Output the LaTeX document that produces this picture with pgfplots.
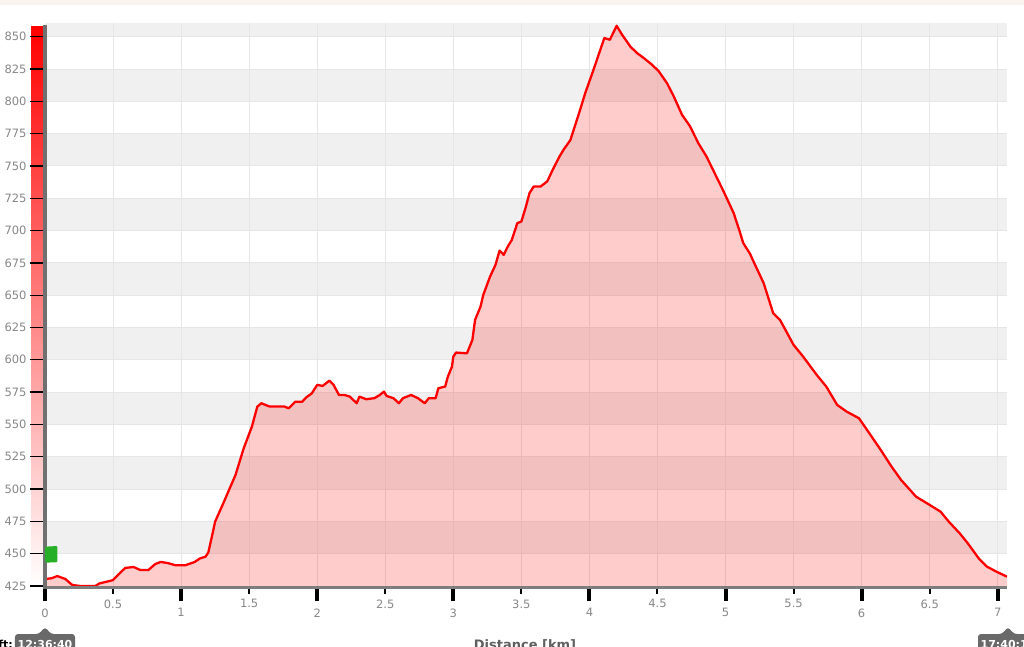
\documentclass[border=0pt]{standalone}
\usepackage{fontspec}
\setmainfont{DejaVu Sans}
\usepackage{pgfplots}
\pgfplotsset{compat=1.18}
\usepackage{pgfplotstable}
\definecolor{band}{RGB}{240,240,240}
\definecolor{gridc}{RGB}{230,230,230}
\definecolor{axgray}{RGB}{112,112,112}
\definecolor{xaxgray}{RGB}{125,125,125}
\definecolor{lblgray}{RGB}{135,135,135}
\definecolor{flag}{RGB}{40,175,40}
\definecolor{callout}{RGB}{105,105,105}
\definecolor{topstrip}{RGB}{250,244,240}

\pgfplotstableread{
x y
0 430.4
0.05 431
0.09 432.7
0.15 430.4
0.20 425.8
0.26 425
0.37 425
0.40 427
0.48 429
0.50 429.6
0.54 434
0.59 439
0.65 439.7
0.70 437.4
0.76 437.4
0.81 442
0.85 443.6
0.90 442.8
0.96 441
1.03 441
1.10 443.6
1.14 446.4
1.18 447.7
1.20 451
1.23 465
1.25 474.8
1.31 489
1.40 511
1.46 531.6
1.52 548.3
1.56 563.8
1.59 566.4
1.65 563.8
1.76 563.8
1.79 562.5
1.84 567.6
1.89 567.6
1.92 571
1.96 574
2.00 580.6
2.04 579.8
2.09 583.9
2.12 580.6
2.16 572.8
2.20 572.8
2.24 571.5
2.29 566.4
2.31 571.5
2.36 569.5
2.42 570.3
2.46 572.8
2.49 575.4
2.51 572
2.56 570.3
2.60 566.4
2.63 570.3
2.69 572.8
2.74 570.3
2.79 566.4
2.82 570.3
2.87 570.3
2.89 578
2.94 579.3
2.96 587
2.99 594.7
3.00 602.5
3.02 605.6
3.10 605
3.14 615.4
3.16 630.9
3.20 641.2
3.22 650.2
3.27 664.4
3.31 673.5
3.34 684.5
3.37 681.2
3.40 687.6
3.43 692.8
3.47 705.7
3.50 707
3.53 717.3
3.56 729
3.59 734
3.64 734
3.69 738
3.73 747
3.78 757.3
3.81 762.5
3.86 770
3.92 789.6
3.97 806.6
4.03 824.4
4.08 839.9
4.11 849
4.15 847.6
4.20 858.4
4.24 851.5
4.30 842.4
4.35 837.3
4.40 833.4
4.46 828.3
4.51 823.1
4.57 814
4.62 803.7
4.68 789.6
4.74 780.5
4.80 767.6
4.86 757.3
4.92 744.4
4.98 731.5
5.02 722.5
5.06 713.4
5.10 700.6
5.13 690.3
5.18 682
5.20 677.3
5.28 659.3
5.35 636.1
5.40 630.9
5.50 611.5
5.57 602.5
5.67 588.3
5.74 579.3
5.82 565.1
5.89 559.9
5.98 554.8
6.04 545.7
6.14 530.3
6.22 517.3
6.29 507
6.40 494.1
6.50 487.7
6.58 482.5
6.64 474.8
6.72 465.8
6.78 458
6.86 446.4
6.92 440
6.99 436.1
7.068 432.2
}\profile

\begin{document}
\begin{tikzpicture}[x=1pt,y=1pt]
\path[use as bounding box] (-45,-61) rectangle (979,586);
\fill[topstrip] (-45,581) rectangle (979,586);
% gradient bar left of the y axis
\shade[top color=red, bottom color=white, middle color={rgb,255:red,255;green,128;blue,128}] (-14,0) rectangle (-1.7,559.3);
\begin{axis}[
  at={(0,0)}, anchor=origin,
  scale only axis, width=962pt, height=562pt,
  xmin=0, xmax=7.068, ymin=425, ymax=859.8,
  axis line style={draw=none},
  xtick pos=bottom, ytick pos=left,
  xtick={0,1,...,7},
  extra x ticks={0.5,1.5,2.5,3.5,4.5,5.5,6.5},
  extra x tick style={major tick length=8pt, xtick style={black, line width=2pt}, xticklabel style={yshift=2pt}},
  ytick={425,450,...,850},
  tick align=outside,
  major tick length=15pt,
  xtick style={black, line width=4pt},
  ytick style={black, line width=1.3pt},
  ticklabel style={font=\fontsize{11.5}{13}\selectfont, text=lblgray},
  xticklabel style={yshift=-4pt},
  /pgf/number format/assume math mode=true,
  clip=true,
]
% bands
\fill[band] (axis cs:0,450) rectangle (axis cs:7.068,475);
\fill[band] (axis cs:0,500) rectangle (axis cs:7.068,525);
\fill[band] (axis cs:0,550) rectangle (axis cs:7.068,575);
\fill[band] (axis cs:0,600) rectangle (axis cs:7.068,625);
\fill[band] (axis cs:0,650) rectangle (axis cs:7.068,675);
\fill[band] (axis cs:0,700) rectangle (axis cs:7.068,725);
\fill[band] (axis cs:0,750) rectangle (axis cs:7.068,775);
\fill[band] (axis cs:0,800) rectangle (axis cs:7.068,825);
\fill[band] (axis cs:0,850) rectangle (axis cs:7.068,870);
% grid
\pgfplotsinvokeforeach{0.5,1,1.5,2,2.5,3,3.5,4,4.5,5,5.5,6,6.5,7}{
  \draw[gridc, line width=1.1pt] (axis cs:#1,425) -- (axis cs:#1,870);
}
\pgfplotsinvokeforeach{450,475,500,525,550,575,600,625,650,675,700,725,750,775,800,825,850}{
  \draw[gridc, line width=0.9pt] (axis cs:0,#1) -- (axis cs:7.068,#1);
}
\addplot[draw=none, fill=red, fill opacity=0.2] table[x=x,y=y] {\profile} \closedcycle;
\addplot[red, line width=2.3pt, line join=round] table[x=x,y=y] {\profile};
\end{axis}
% axis lines
\draw[xaxgray, line width=3pt] (0,-1.5) -- (962,-1.5);
\draw[axgray, line width=4pt] (0.3,-3) -- (0.3,561);
% green marker
\fill[flag, rounded corners=1pt] (0,23.3) -- (12.3,23.8) -- (12.3,40) -- (0,39.3) -- cycle;
% time callouts
\fill[callout, rounded corners=3pt] (-30,-48) -- (-6,-48) -- (0,-41) -- (6,-48) -- (30,-48) -- (30,-75) -- (-30,-75) -- cycle;
\node[anchor=base, text=white, font=\bfseries\fontsize{11}{13}\selectfont, inner sep=0] at (0,-62) {12:36:40};
\node[anchor=base east, text=black, font=\bfseries\fontsize{11}{13}\selectfont, inner sep=0] at (-32,-62) {Left:};
\fill[callout, rounded corners=3pt] (933,-48) -- (957,-48) -- (963,-41) -- (969,-48) -- (993,-48) -- (993,-75) -- (933,-75) -- cycle;
\node[anchor=base, text=white, font=\bfseries\fontsize{11}{13}\selectfont, inner sep=0] at (963,-62) {17:40:15};
% x label
\node[anchor=base, text={rgb,255:red,95;green,95;blue,95}, font=\bfseries\fontsize{13}{15}\selectfont, inner sep=0] at (480,-63) {Distance [km]};
\end{tikzpicture}
\end{document}
